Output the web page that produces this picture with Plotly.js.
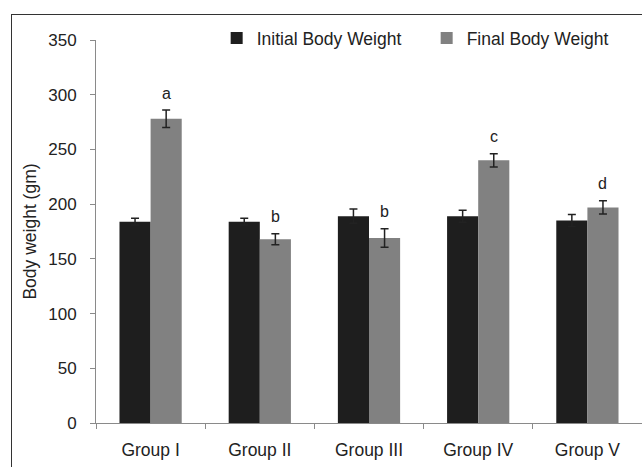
<!DOCTYPE html>
<html>
<head>
<meta charset="utf-8">
<script src="https://cdn.plot.ly/plotly-3.0.1.min.js"></script>
<style>
  html, body { margin: 0; padding: 0; background: #fff; overflow: hidden; }
  #frame { position: absolute; left: 11px; top: 14px; width: 700px; height: 500px;
           border-left: 1.5px solid #333; border-top: 1.5px solid #333; }
  #chart { position: absolute; left: 0; top: 0; width: 642px; height: 467px; }
</style>
</head>
<body>
<div id="frame"></div>
<div id="chart"></div>
<script>
const categories = ["Group I", "Group II", "Group III", "Group IV", "Group V"];
const initialWeight = [184, 184, 189, 189, 185];
const initialErr = [3, 3, 6.5, 5.5, 5.5];
const finalWeight = [278, 168, 169, 240, 197];
const finalErr = [8, 5, 8.5, 6, 6];
const letters = ["a", "b", "b", "c", "d"];
const yTicks = [0, 50, 100, 150, 200, 250, 300, 350];

const font = "Liberation Sans, Arial, sans-serif";

const traces = [
  {
    type: "bar", name: "Initial Body Weight", x: categories, y: initialWeight,
    marker: { color: "#1e1e1e" },
    error_y: { type: "data", array: initialErr, visible: true, color: "#222", thickness: 1.5, width: 4 }
  },
  {
    type: "bar", name: "Final Body Weight", x: categories, y: finalWeight,
    marker: { color: "#818181" },
    error_y: { type: "data", array: finalErr, visible: true, color: "#222", thickness: 1.5, width: 4 }
  }
];

const annotations = categories.map((c, i) => ({
  x: c, y: finalWeight[i] + finalErr[i], xref: "x", yref: "y",
  xshift: 15.5, yshift: 17, text: letters[i], showarrow: false,
  yanchor: "middle", font: { family: font, size: 16, color: "#222" }
}));

const layout = {
  width: 642, height: 467,
  margin: { l: 96, r: 0, t: 40, b: 44, autoexpand: false },
  paper_bgcolor: "rgba(0,0,0,0)", plot_bgcolor: "rgba(0,0,0,0)",
  barmode: "group", bargap: 0.43, bargroupgap: 0,
  font: { family: font, size: 17.5, color: "#222" },
  showlegend: true,
  legend: {
    orientation: "h", x: 0.221, xanchor: "left", y: 1.005, yanchor: "middle",
    bgcolor: "rgba(0,0,0,0)", font: { family: font, size: 17.5, color: "#222" },
    entrywidth: 165, entrywidthmode: "pixels", traceorder: "normal"
  },
  xaxis: {
    type: "category", range: [-0.5, 4.5], showline: true, linecolor: "#8a8a8a", linewidth: 1,
    ticks: "outside", ticklen: 5, tickcolor: "#8a8a8a", tickson: "boundaries",
    ticklabelstandoff: 11, showgrid: false, zeroline: false, automargin: false,
    tickfont: { family: font, size: 17.5, color: "#222" }, fixedrange: true
  },
  yaxis: {
    range: [0, 350], tickvals: yTicks, ticktext: yTicks.map(String),
    showline: true, linecolor: "#8a8a8a", linewidth: 1,
    ticks: "outside", ticklen: 5, tickcolor: "#8a8a8a", ticklabelstandoff: 10,
    showgrid: false, zeroline: false, automargin: false,
    tickfont: { family: font, size: 17, color: "#222" },
    title: { text: "Body weight (gm)", font: { family: font, size: 17.5, color: "#222" }, standoff: 7 },
    fixedrange: true
  },
  annotations: annotations
};

Plotly.newPlot("chart", traces, layout, { displayModeBar: false, staticPlot: true });
</script>
</body>
</html>
